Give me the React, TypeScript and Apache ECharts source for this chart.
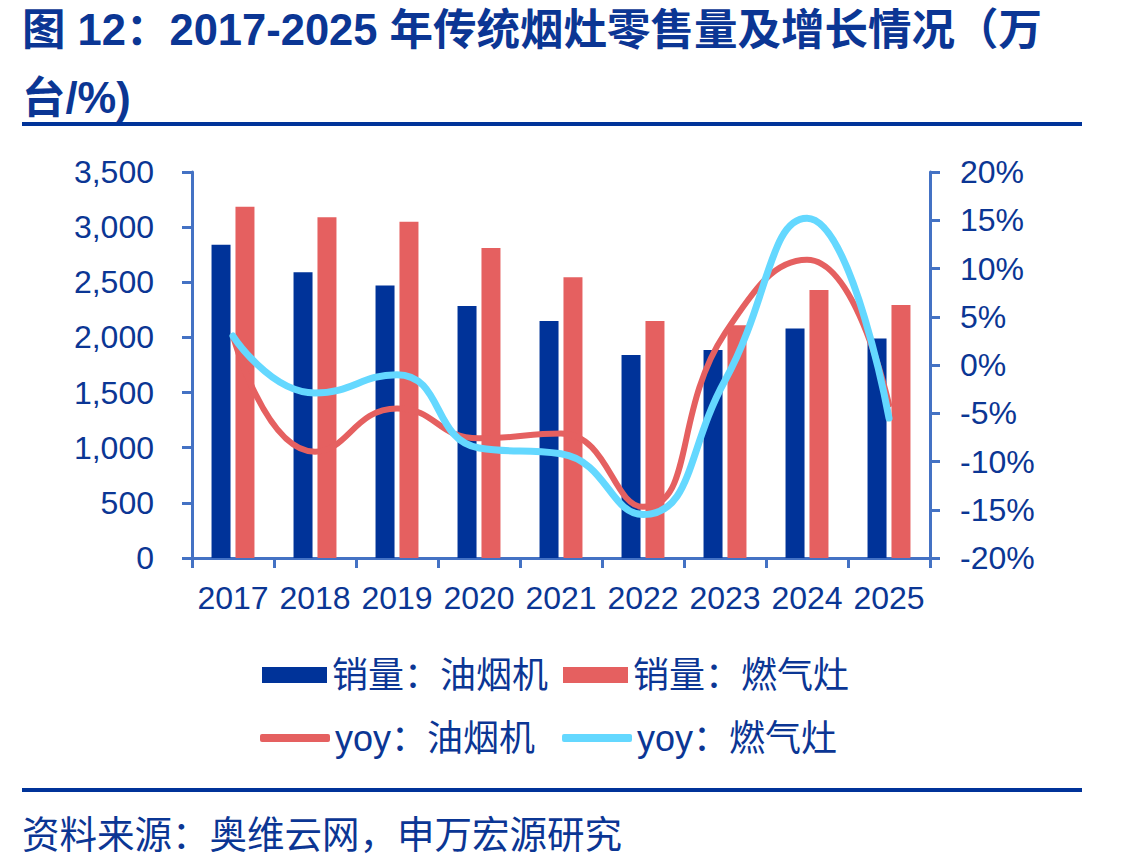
import React, { useEffect, useRef } from 'react';
import * as echarts from 'echarts';

const years = ['2017', '2018', '2019', '2020', '2021', '2022', '2023', '2024', '2025'];
const hoodSales = [2840, 2590, 2470, 2285, 2150, 1840, 1885, 2080, 1990];
const stoveSales = [3185, 3090, 3050, 2810, 2545, 2150, 2110, 2430, 2295];
const hoodYoy = [3.0, -9.0, -4.5, -7.6, -7.1, -14.7, 3.3, 10.9, -4.1];
const stoveYoy = [3.0, -2.9, -1.0, -8.6, -9.2, -15.5, -1.6, 15.2, -5.5];

const seriesNames = ['销量：油烟机', '销量：燃气灶', 'yoy：油烟机', 'yoy：燃气灶'];
const titleLine1 = '图 12：2017-2025 年传统烟灶零售量及增长情况（万';
const titleLine2 = '台/%)';
const sourceText = '资料来源：奥维云网，申万宏源研究';

const NAVY = '#0B3694';
const DARK_BAR = '#003399';
const RED = '#E56060';
const CYAN = '#64D8FF';
const AXIS = '#4472C4';
const LATIN = '"Liberation Sans", Arial, "Noto Sans CJK SC", sans-serif';

export default function App() {
  const ref = useRef<HTMLDivElement>(null);
  useEffect(() => {
    if (!ref.current) return;
    const chart = echarts.init(ref.current, null, { renderer: 'svg' });
    const axisLabel = { color: NAVY, fontSize: 32, fontFamily: LATIN };
    chart.setOption({
      animation: false,
      backgroundColor: '#ffffff',
      grid: { left: 192, right: 198, top: 172, bottom: 308, containLabel: false },
      legend: [
        {
          data: [seriesNames[0], seriesNames[1]],
          left: 262,
          top: 657,
          padding: 0,
          icon: 'rect',
          itemWidth: 65,
          itemHeight: 16,
          itemGap: 15,
          textStyle: { color: NAVY, fontSize: 36, fontFamily: LATIN },
        },
        {
          data: [seriesNames[2], seriesNames[3]],
          left: 260,
          top: 720,
          padding: 0,
          icon: 'roundRect',
          itemWidth: 70,
          itemHeight: 8,
          itemGap: 27,
          textStyle: { color: NAVY, fontSize: 36, fontFamily: LATIN },
        },
      ],
      xAxis: {
        type: 'category',
        data: years,
        boundaryGap: true,
        axisLine: { lineStyle: { color: AXIS, width: 3 } },
        axisTick: { show: true, length: 10, lineStyle: { color: AXIS, width: 3 } },
        axisLabel: { ...axisLabel, margin: 24, interval: 0 },
      },
      yAxis: [
        {
          type: 'value',
          min: 0,
          max: 3500,
          interval: 500,
          splitLine: { show: false },
          axisLine: { show: true, lineStyle: { color: AXIS, width: 3 } },
          axisTick: { show: true, length: 10, lineStyle: { color: AXIS, width: 3 } },
          axisLabel: {
            ...axisLabel,
            margin: 38,
            formatter: (v: number) => v.toLocaleString('en-US'),
          },
        },
        {
          type: 'value',
          min: -20,
          max: 20,
          interval: 5,
          position: 'right',
          splitLine: { show: false },
          axisLine: { show: true, lineStyle: { color: AXIS, width: 3 } },
          axisTick: { show: true, length: 10, lineStyle: { color: AXIS, width: 3 } },
          axisLabel: { ...axisLabel, margin: 30, formatter: (v: number) => v + '%' },
        },
      ],
      series: [
        {
          name: seriesNames[0],
          type: 'bar',
          data: hoodSales,
          barWidth: 19,
          barGap: '26%',
          itemStyle: { color: DARK_BAR },
        },
        {
          name: seriesNames[1],
          type: 'bar',
          data: stoveSales,
          barWidth: 19,
          barGap: '26%',
          itemStyle: { color: RED },
        },
        {
          name: seriesNames[2],
          type: 'line',
          yAxisIndex: 1,
          data: hoodYoy,
          smooth: 0.5,
          symbol: 'none',
          lineStyle: { color: RED, width: 6, cap: 'round' },
          itemStyle: { color: RED },
        },
        {
          name: seriesNames[3],
          type: 'line',
          yAxisIndex: 1,
          data: stoveYoy,
          smooth: 0.5,
          symbol: 'none',
          lineStyle: { color: CYAN, width: 7, cap: 'round' },
          itemStyle: { color: CYAN },
        },
      ],
      graphic: [
        {
          type: 'text',
          left: 22,
          top: 8,
          style: {
            text: titleLine1,
            fill: NAVY,
            font: 'bold 43.5px "Liberation Sans", Arial, "Noto Sans CJK SC", sans-serif',
          },
        },
        {
          type: 'text',
          left: 22,
          top: 76,
          style: {
            text: titleLine2,
            fill: NAVY,
            font: 'bold 43.5px "Liberation Sans", Arial, "Noto Sans CJK SC", sans-serif',
          },
        },
        {
          type: 'rect',
          shape: { x: 22, y: 122, width: 1060, height: 4 },
          style: { fill: '#003399' },
        },
        {
          type: 'rect',
          shape: { x: 22, y: 788, width: 1060, height: 4 },
          style: { fill: '#003399' },
        },
        {
          type: 'text',
          left: 22,
          top: 813,
          style: {
            text: sourceText,
            fill: NAVY,
            font: '37.5px "Noto Sans CJK SC", sans-serif',
          },
        },
      ],
    });
    return () => chart.dispose();
  }, []);
  return (
    <div
      ref={ref}
      style={{ position: 'fixed', left: 0, top: 0, width: 1128, height: 866, background: '#fff' }}
    />
  );
}
